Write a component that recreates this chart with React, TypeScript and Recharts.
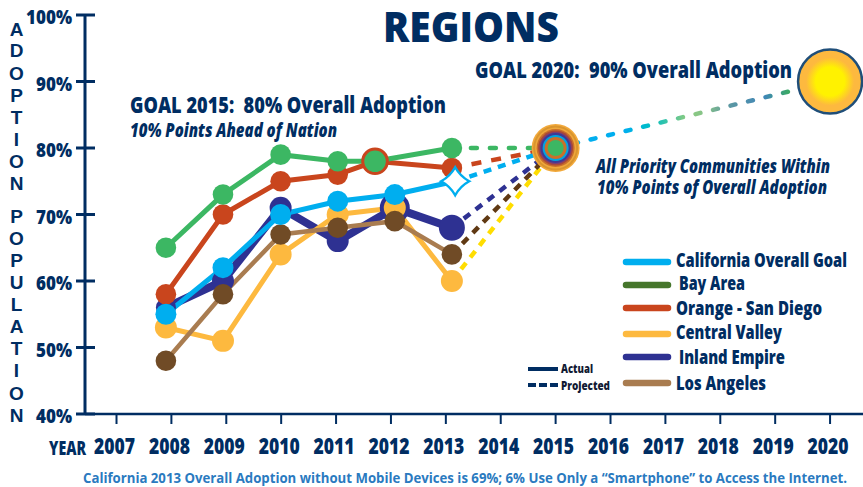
import React from 'react';
import { ComposedChart, Line, XAxis, YAxis } from 'recharts';

const NAVY = '#002d62';
const FONT = '"Open Sans", "Noto Sans", sans-serif';

// x positions, in years (the yearly points sit a bit off the tick marks)
const pointYears = [2007.9, 2008.94, 2009.99, 2011.03, 2012.07, 2013.11];
const bayYears = [2007.9, 2008.94, 2009.99, 2011.03, 2011.71, 2013.11];
const goalYears = [2007.9, 2008.94, 2009.99, 2011.03, 2012.07, 2013.17];

const goal = [55, 62, 70, 72, 73, 75];
const bayArea = [65, 73, 79, 78, 78, 80];
const orangeSd = [58, 70, 75, 76, 78, 77];
const central = [53, 51, 64, 70, 71, 60];
const inland = [56, 60, 71, 66, 71, 68];
const losAngeles = [48, 58, 67, 68, 69, 64];

const inlandRadius = [10, 11, 11, 11, 15, 13];

const year2015 = 2015;
const goal2015 = 80;
const year2020 = 2020;
const goal2020 = 90;

const yearTicks = [2007, 2008, 2009, 2010, 2011, 2012, 2013, 2014, 2015, 2016, 2017, 2018, 2019, 2020];
const percentTicks = [40, 50, 60, 70, 80, 90, 100];

const sideLetters = ['A', 'D', 'O', 'P', 'T', 'I', 'O', 'N', 'P', 'O', 'P', 'U', 'L', 'A', 'T', 'I', 'O', 'N'];
const sideLetterY = [36, 57, 80, 102, 124, 146, 168, 190, 223, 245, 267, 289, 311, 333, 355, 377, 400, 422];

const legendNames = ['California Overall Goal', 'Bay Area', 'Orange - San Diego', 'Central Valley', 'Inland Empire', 'Los Angeles'];
const legendColors = ['#00aeef', '#46762c', '#c9451d', '#fdb93f', '#2e3192', '#a97c50'];
const legendLineY = [262, 285, 308, 334, 357, 383];
const legendTextX = [676, 679, 676, 676, 679, 676];
const legendTextY = [267, 290, 315, 339, 364, 390];
const legendTextW = [171, 66, 146, 106, 106, 90];

const toRows = (xs: number[], ys: number[]) => xs.map((x, i) => ({ x, y: ys[i] }));

const projected = (x: number, y: number) => [{ x, y }, { x: year2015, y: goal2015 }];

function Txt({ x, y, w, size, children, fill = NAVY, italic = false, weight = 800, anchor, family = FONT }: any) {
  return (
    <text
      x={x}
      y={y}
      fill={fill}
      fontFamily={family}
      fontSize={size}
      fontWeight={weight}
      fontStyle={italic ? 'italic' : 'normal'}
      textLength={w}
      lengthAdjust={w ? 'spacingAndGlyphs' : undefined}
      textAnchor={anchor}
      style={{ whiteSpace: 'pre' }}
    >
      {children}
    </text>
  );
}

const YTick = ({ y, payload }: any) => {
  const label = `${payload.value}%`;
  const w = label.length > 3 ? 46 : 36;
  return (
    <g>
      <line x1={76} x2={95} y1={y} y2={y} stroke={NAVY} strokeWidth={3} />
      <Txt x={72 - w} y={y + 9} w={w} size={20}>{label}</Txt>
    </g>
  );
};

const XTick = ({ x, payload }: any) => (
  <g>
    <line x1={x} x2={x} y1={414} y2={424} stroke={NAVY} strokeWidth={2} />
    <Txt x={x - 22.5} y={454} w={41} size={23}>{payload.value}</Txt>
  </g>
);

const plainDot = (fill: string, r = 10.3) => (props: any) => (
  <circle key={props.index} cx={props.cx} cy={props.cy} r={r} fill={fill} />
);

const inlandDot = (props: any) => (
  <circle key={props.index} cx={props.cx} cy={props.cy} r={inlandRadius[props.index]} fill="#2e3192" />
);

// the extra Bay Area point has the orange ring round it
const bayDot = (props: any) =>
  props.index === 4 ? (
    <circle key={props.index} cx={props.cx} cy={props.cy} r={12.3} fill="#3cb763" stroke="#c9451d" strokeWidth={3} />
  ) : (
    <circle key={props.index} cx={props.cx} cy={props.cy} r={10.3} fill="#3cb763" />
  );

const goalDot = (props: any) => {
  if (props.index !== 5) return <circle key={props.index} cx={props.cx} cy={props.cy} r={10.5} fill="#00aeef" />;
  const { cx, cy } = props;
  const s = 14;
  const k = 5;
  return (
    <path
      key={props.index}
      d={`M${cx},${cy - s} Q${cx + k},${cy - k} ${cx + s},${cy} Q${cx + k},${cy + k} ${cx},${cy + s} Q${cx - k},${cy + k} ${cx - s},${cy} Q${cx - k},${cy - k} ${cx},${cy - s}Z`}
      fill="#fff"
      stroke="#00aeef"
      strokeWidth={2.5}
    />
  );
};

const ringColors = ['#f2a93b', '#d9952f', '#f0a83c', '#c9702a', '#a8483a', '#7a3a78', '#3f3a94'];
const ringRadius = [24, 22.5, 20.5, 19, 17.5, 16, 15];

const medallionOuter = (props: any) => (
  <g key={props.index}>
    {ringColors.map((c, i) => (
      <circle key={i} cx={props.cx} cy={props.cy} r={ringRadius[i]} fill={c} />
    ))}
  </g>
);

const medallionInner = (props: any) => (
  <g key={props.index}>
    <circle cx={props.cx} cy={props.cy} r={13} fill="#00a3e0" />
    <circle cx={props.cx} cy={props.cy} r={11} fill="#c9702a" />
    <circle cx={props.cx} cy={props.cy} r={8} fill="#3cb763" />
  </g>
);

const sunDot = (props: any) => (
  <circle key={props.index} cx={props.cx} cy={props.cy} r={32} fill="url(#sunFill)" stroke="#1f4e79" strokeWidth={2.5} />
);

const dashLine = { dot: false, isAnimationActive: false, strokeWidth: 4.5, strokeDasharray: '8 7', strokeLinecap: 'butt' as const };

function Overlay() {
  return (
    <svg width={863} height={487} style={{ position: 'absolute', left: 0, top: 0, pointerEvents: 'none' }}>
      <Txt x={383} y={42} w={176} size={42}>REGIONS</Txt>
      <Txt x={475} y={78} w={317} size={23}>GOAL 2020:  90% Overall Adoption</Txt>
      <Txt x={130} y={113} w={316} size={23}>GOAL 2015:  80% Overall Adoption</Txt>
      <Txt x={130} y={137} w={207} size={19} italic>10% Points Ahead of Nation</Txt>
      <Txt x={596} y={173} w={234} size={20} italic>All Priority Communities Within</Txt>
      <Txt x={597} y={194} w={230} size={20} italic>10% Points of Overall Adoption</Txt>

      {sideLetters.map((c, i) => (
        <Txt key={i} x={16.5} y={sideLetterY[i]} size={19} anchor="middle" weight={700} family='"Liberation Sans", sans-serif'>{c}</Txt>
      ))}

      <Txt x={49} y={455} w={37} size={20}>YEAR</Txt>

      {legendNames.map((name, i) => (
        <g key={name}>
          <line x1={626} x2={668} y1={legendLineY[i]} y2={legendLineY[i]} stroke={legendColors[i]} strokeWidth={6.5} strokeLinecap="round" />
          <Txt x={legendTextX[i]} y={legendTextY[i]} w={legendTextW[i]} size={20}>{name}</Txt>
        </g>
      ))}

      <line x1={528} x2={558} y1={369} y2={369} stroke={NAVY} strokeWidth={4} />
      <line x1={528} x2={558} y1={385} y2={385} stroke={NAVY} strokeWidth={4} strokeDasharray="8 3" />
      <Txt x={561} y={373} w={32} size={12.5} fill="#111a33">Actual</Txt>
      <Txt x={561} y={390} w={49} size={12.5} fill="#111a33">Projected</Txt>

      <Txt x={83} y={483} w={764} size={13.5} fill="#2a7abf" weight={700}>California 2013 Overall Adoption without Mobile Devices is 69%; 6% Use Only a “Smartphone” to Access the Internet.</Txt>
    </svg>
  );
}

export default function App() {
  return (
    <div style={{ position: 'absolute', left: 0, top: 0, width: 863, height: 487, background: '#fff' }}>
      <ComposedChart width={863} height={487} margin={{ top: 15, right: 0, bottom: 0, left: 0 }}>
        <defs>
          <linearGradient id="goalDash" x1="0" y1="0" x2="1" y2="0">
            <stop offset="0%" stopColor="#00aeef" />
            <stop offset="25%" stopColor="#00aeef" />
            <stop offset="35%" stopColor="#00bfc4" />
            <stop offset="48%" stopColor="#8ccb80" />
            <stop offset="55%" stopColor="#86c28a" />
            <stop offset="62%" stopColor="#5f9aa0" />
            <stop offset="76%" stopColor="#3f86b8" />
            <stop offset="88%" stopColor="#39b54a" />
            <stop offset="100%" stopColor="#39b54a" />
          </linearGradient>
          <radialGradient id="sunFill">
            <stop offset="0%" stopColor="#fff200" />
            <stop offset="45%" stopColor="#fff200" />
            <stop offset="75%" stopColor="#fdb93f" />
            <stop offset="100%" stopColor="#fdb93f" />
          </radialGradient>
        </defs>
        <XAxis
          type="number"
          dataKey="x"
          domain={[2006.426, 2020.6]}
          ticks={yearTicks}
          interval={0}
          height={73}
          stroke={NAVY}
          strokeWidth={2.5}
          tickLine={false}
          tick={<XTick />}
          allowDuplicatedCategory={false}
        />
        <YAxis
          type="number"
          dataKey="y"
          domain={[40, 100]}
          ticks={percentTicks}
          width={85}
          stroke={NAVY}
          strokeWidth={3}
          tickLine={false}
          tick={<YTick />}
        />

        <Line data={projected(pointYears[5], bayArea[5])} dataKey="y" stroke="#3cb763" {...dashLine} strokeLinecap="round" strokeDasharray="6 13" />
        <Line data={projected(pointYears[5], orangeSd[5])} dataKey="y" stroke="#c9451d" {...dashLine} strokeDasharray="10 10" />
        <Line data={projected(goalYears[5], goal[5])} dataKey="y" stroke="#00aeef" {...dashLine} />
        <Line data={projected(pointYears[5], central[5])} dataKey="y" stroke="#ffdd00" {...dashLine} />
        <Line data={[{ x: year2015, y: goal2015 }, { x: year2020, y: goal2020 }]} dataKey="y" stroke="url(#goalDash)" {...dashLine} strokeLinecap="round" strokeDasharray="5 13" />

        <Line data={[{ x: year2015, y: goal2015 }]} dataKey="y" stroke="none" dot={medallionOuter} isAnimationActive={false} />
        <Line data={projected(pointYears[5], inland[5])} dataKey="y" stroke="#2e3192" {...dashLine} />
        <Line data={projected(pointYears[5], losAngeles[5])} dataKey="y" stroke="#603913" {...dashLine} />
        <Line data={[{ x: year2015, y: goal2015 }]} dataKey="y" stroke="none" dot={medallionInner} isAnimationActive={false} />
        <Line data={[{ x: year2020, y: goal2020 }]} dataKey="y" stroke="none" dot={sunDot} isAnimationActive={false} />

        <Line data={toRows(pointYears, inland)} dataKey="y" stroke="#2e3192" strokeWidth={8} dot={inlandDot} isAnimationActive={false} />
        <Line data={toRows(pointYears, central)} dataKey="y" stroke="#fdb93f" strokeWidth={5} dot={plainDot('#fdb93f', 11)} isAnimationActive={false} />
        <Line data={toRows(bayYears, orangeSd)} dataKey="y" stroke="#c9451d" strokeWidth={5} dot={plainDot('#c9451d')} isAnimationActive={false} />
        <Line data={toRows(pointYears, losAngeles)} dataKey="y" stroke="#a97c50" strokeWidth={4.5} dot={plainDot('#704b26')} isAnimationActive={false} />
        <Line data={toRows(goalYears, goal)} dataKey="y" stroke="#00aeef" strokeWidth={5} dot={goalDot} isAnimationActive={false} />
        <Line data={toRows(bayYears, bayArea)} dataKey="y" stroke="#3cb763" strokeWidth={5} dot={bayDot} isAnimationActive={false} />
      </ComposedChart>
      <Overlay />
    </div>
  );
}
